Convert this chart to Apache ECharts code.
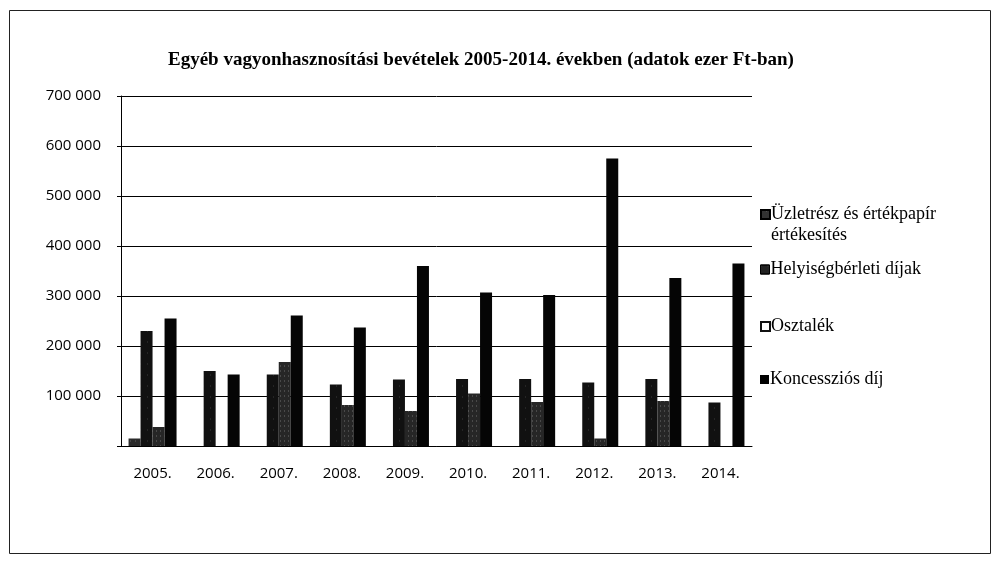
<!DOCTYPE html>
<html>
<head>
<meta charset="utf-8">
<script src="https://cdn.jsdelivr.net/npm/echarts@6/dist/echarts.min.js"></script>
<style>
  html, body { margin: 0; padding: 0; background: #fff; }
  #chart { width: 996px; height: 585px; }
</style>
</head>
<body>
<div id="chart"></div>
<script>
// évek
var years = ['2005.', '2006.', '2007.', '2008.', '2009.', '2010.', '2011.', '2012.', '2013.', '2014.'];

// adatok ezer Ft-ban
var uzletresz = [15000, 0, 0, 0, 0, 0, 0, 0, 0, 0];
var helyiseg = [230000, 150000, 143000, 123000, 133000, 134000, 134000, 127000, 134000, 87000];
var osztalek = [38000, 0, 168000, 82000, 70000, 105000, 88000, 15000, 90000, 0];
var koncesszio = [255000, 143000, 261000, 237000, 360000, 307000, 302000, 575000, 336000, 365000];

var seriesNames = ['Üzletrész és értékpapír értékesítés', 'Helyiségbérleti díjak', 'Osztalék', 'Koncessziós díj'];
var legendTops = [199, 254, 311, 364];

var SERIF = '"Liberation Serif", "DejaVu Serif", serif';
var SANS = '"Open Sans", "Liberation Sans", sans-serif';

function fmt(v) {
    return String(v).replace(/\B(?=(\d{3})+(?!\d))/g, ' ');
}

var chart = echarts.init(document.getElementById('chart'));

var barStyles = [
    {color: '#2b2b2b', decal: {symbol: 'rect', symbolSize: 0.6, color: 'rgba(255,255,255,0.45)', dashArrayX: [1, 4], dashArrayY: [2, 6]}},
    {color: '#111', decal: {symbol: 'rect', symbolSize: 0.5, color: 'rgba(255,255,255,0.35)', dashArrayX: [1, 6], dashArrayY: [2, 9]}},
    {color: '#262626', decal: {symbol: 'rect', symbolSize: 0.6, color: 'rgba(255,255,255,0.55)', dashArrayX: [1, 3], dashArrayY: [2, 3]}},
    {color: '#050505'}
];

var legendIcons = [
    {color: '#333', borderColor: '#000', borderWidth: 2},
    {color: '#222', borderColor: '#000', borderWidth: 1},
    {color: '#fff', borderColor: '#111', borderWidth: 2},
    {color: '#000'}
];

var allData = [uzletresz, helyiseg, osztalek, koncesszio];

// a hosszú első jelmagyarázat-elem két sorba törve
var legendLabels = ['Üzletrész és értékpapír', 'Helyiségbérleti díjak', 'Osztalék', 'Koncessziós díj'];

var legends = seriesNames.map(function (name, i) {
    return {
        left: 755,
        top: legendTops[i],
        orient: 'vertical',
        icon: 'rect',
        itemWidth: 9,
        itemHeight: 9,
        itemGap: 0,
        selectedMode: false,
        data: [{name: name, itemStyle: legendIcons[i]}],
        formatter: function () { return legendLabels[i]; },
        textStyle: {fontFamily: SERIF, fontSize: 18, color: '#000', padding: [0, 0, 0, -4], lineHeight: 21}
    };
});

var option = {
    animation: false,
    backgroundColor: '#fff',
    title: {
        text: 'Egyéb vagyonhasznosítási bevételek 2005-2014. években (adatok ezer Ft-ban)',
        left: 163,
        top: 46,
        textStyle: {fontFamily: SERIF, fontSize: 19, fontWeight: 'bold', color: '#000'}
    },
    legend: legends,
    grid: {left: 121, right: 244, top: 96, bottom: 139},
    xAxis: {
        type: 'category',
        data: years,
        axisLine: {lineStyle: {color: '#000', width: 1}},
        axisTick: {show: false},
        axisLabel: {fontFamily: SANS, fontSize: 15, color: '#000', margin: 20}
    },
    yAxis: {
        type: 'value',
        min: 0,
        max: 700000,
        interval: 100000,
        axisLine: {show: true, lineStyle: {color: '#000', width: 1}},
        axisTick: {show: true, length: 4, lineStyle: {color: '#000'}},
        splitLine: {lineStyle: {color: '#000', width: 1}},
        axisLabel: {
            fontFamily: SANS, fontSize: 15, color: '#000', margin: 20,
            formatter: function (v) { return v === 0 ? '' : fmt(v); }
        }
    },
    series: allData.map(function (data, i) {
        return {
            name: seriesNames[i],
            type: 'bar',
            data: data,
            barWidth: 12,
            barGap: '0%',
            itemStyle: barStyles[i]
        };
    }),
    graphic: [{
        type: 'rect',
        shape: {x: 9.5, y: 10.5, width: 981, height: 543},
        style: {fill: 'none', stroke: '#222', lineWidth: 1},
        silent: true
    }, {
        type: 'text',
        left: 771,
        top: 226,
        style: {text: 'értékesítés', font: '18px ' + SERIF, fill: '#000'},
        silent: true
    }]
};

chart.setOption(option);
</script>
</body>
</html>
